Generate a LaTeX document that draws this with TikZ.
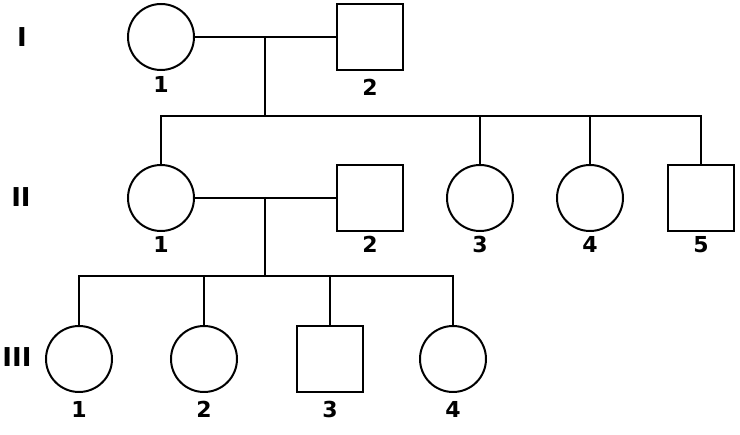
\documentclass[tikz,border=0pt]{standalone}
\usepackage{fontspec}
\setsansfont{DejaVu Sans}
\usetikzlibrary{calc}

\tikzset{
	fem/.style={draw, line width=2pt, circle, minimum size=66pt, inner sep=0pt},
	mal/.style={draw, line width=2pt, rectangle, minimum size=66pt, inner sep=0pt},
	num/.style={font=\sffamily\bfseries\fontsize{22}{22}\selectfont, inner sep=1pt},
	gen/.style={font=\sffamily\bfseries\fontsize{26}{26}\selectfont},
	line/.style={line width=2pt}
}

\begin{document}
\begin{tikzpicture}[x=1pt,y=-1pt]
		\useasboundingbox (0,0) rectangle (740,435);
		
		% generation labels
		\node[gen] (gI) at (22,37) {I};
		\node[gen] (gII) at (21,197) {II};
		\node[gen] (gIII) at (17,357) {III};
		
		% generation I
		\node[fem, label={[num,label distance=4pt]below:1}] (I1) at (161,37) {};
		\node[mal, label={[num,label distance=7pt]below:2}] (I2) at (370,37) {};
		\coordinate (c1) at (265,37);
		\coordinate (s1) at (265,116);
		\draw[line] (I1.east) -- (I2.west);
		\draw[line] (c1) -- (s1);
		
		% generation II
		\node[fem, label={[num,label distance=3pt]below:1}] (II1) at (161,198) {};
		\node[mal, label={[num,label distance=3pt]below:2}] (II2) at (370,198) {};
		\node[fem, label={[num,label distance=3pt]below:3}] (II3) at (480,198) {};
		\node[fem, label={[num,label distance=3pt]below:4}] (II4) at (590,198) {};
		\node[mal, label={[num,label distance=3pt]below:5}] (II5) at (701,198) {};
		\draw[line] (s1) -| (II1.north);
		\draw[line] (s1) -| (II3.north);
		\draw[line] (s1) -| (II4.north);
		\draw[line] (s1) -| (II5.north);
		
		\coordinate (c2) at (265,197);
		\coordinate (s2) at (265,276);
		\draw[line] (II1.east) -- (II2.west);
		\draw[line] (c2) -- (s2);
		
		% generation III
		\node[fem, label={[num,label distance=7pt]below:1}] (III1) at (79,359) {};
		\node[fem, label={[num,label distance=7pt]below:2}] (III2) at (204,359) {};
		\node[mal, label={[num,label distance=7pt]below:3}] (III3) at (330,359) {};
		\node[fem, label={[num,label distance=7pt]below:4}] (III4) at (453,359) {};
		\draw[line] (s2) -| (III1.north);
		\draw[line] (s2) -| (III2.north);
		\draw[line] (s2) -| (III3.north);
		\draw[line] (s2) -| (III4.north);
	\end{tikzpicture}
\end{document}
